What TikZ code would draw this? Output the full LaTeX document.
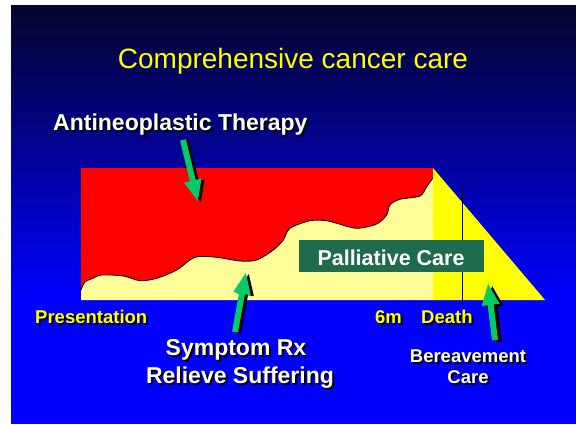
\documentclass[tikz,border=0pt]{standalone}
\usepackage{fontspec}
\setmainfont{Liberation Sans}
\usetikzlibrary{arrows.meta}
\definecolor{bgtop}{RGB}{5,5,45}
\definecolor{bgbot}{RGB}{0,0,250}
\definecolor{slideblue}{RGB}{0,0,255}
\definecolor{lightyel}{RGB}{255,255,153}
\definecolor{brightyel}{RGB}{255,255,0}
\definecolor{arrgreen}{RGB}{0,204,102}
\definecolor{boxgreen}{RGB}{30,107,78}
\newcommand\shtx[1]{\makebox[0pt][l]{\kern2pt\raisebox{-2pt}{\color{black}#1}}#1}
\begin{document}
\begin{tikzpicture}[x=1pt,y=-1pt,
  lbl/.style={inner sep=0pt, font=\bfseries\fontsize{18.5}{22}\selectfont},
  biglbl/.style={inner sep=0pt, font=\bfseries\fontsize{23}{27}\selectfont, text=white},
  bigarrow/.style={line width=6pt, -{Triangle[length=22pt,width=16pt]}, draw=arrgreen},
  arrshadow/.style={line width=6pt, -{Triangle[length=22pt,width=16pt]}, draw=black},
]
\useasboundingbox (0,0) rectangle (576,424);
\fill[white] (0,0) rectangle (576,424);
% slide background
\shade[top color=bgtop, bottom color=bgbot] (11,5) rectangle (576,292);
\fill[slideblue] (11,291) rectangle (576,424);

% title
\node[inner sep=0pt, anchor=base, text=brightyel, font=\fontsize{28}{32}\selectfont] (title) at (293,68) {Comprehensive cancer care};

% chart
\fill[red] (81,168) rectangle (433,300);
\fill[lightyel] (81,300) -- plot[smooth] coordinates {(81,290) (85,282) (93,278.3) (101.7,275) (123.3,276) (140,280.7) (156.7,278.3) (176.7,270) (195,257.3) (216.7,257.3) (240,261) (256.7,260) (273.3,250) (283.3,240) (290,228.3) (310,220.7) (326.7,220.7) (336.7,223.3) (356.7,228.3) (376.7,224) (386.7,215) (390,205) (400,199.3) (420,196) (426.7,186.7) (433,178)} -- (433,168) -- (433,300) -- cycle;
\draw[black, line width=0.8pt] plot[smooth] coordinates {(81,290) (85,282) (93,278.3) (101.7,275) (123.3,276) (140,280.7) (156.7,278.3) (176.7,270) (195,257.3) (216.7,257.3) (240,261) (256.7,260) (273.3,250) (283.3,240) (290,228.3) (310,220.7) (326.7,220.7) (336.7,223.3) (356.7,228.3) (376.7,224) (386.7,215) (390,205) (400,199.3) (420,196) (426.7,186.7) (433,178)};
\fill[brightyel] (433,168) -- (545,300) -- (433,300) -- cycle;
\coordinate (tickTop) at (462,183);
\coordinate (tickBot) at (462,307);
\draw[black, line width=1pt] (tickTop) -- (tickBot);

% palliative box
\node[fill=boxgreen, minimum width=185pt, minimum height=32pt, inner sep=0pt, anchor=north west] (pall) at (299,240) {};
\node[inner sep=0pt, text=white, font=\bfseries\fontsize{21.5}{25}\selectfont, anchor=base] (palltext) at (391,265) {Palliative Care};

% labels
\node[biglbl, anchor=base west] (anti) at (53,130) {\shtx{Antineoplastic Therapy}};
\node[lbl, text=brightyel, anchor=base west] (pres) at (35,323) {\shtx{Presentation}};
\node[lbl, text=brightyel, anchor=base west] (sixm) at (375,323) {\shtx{6m}};
\node[lbl, text=brightyel, anchor=base west] (death) at (421,323) {\shtx{Death}};
\node[biglbl, anchor=base] (symp) at (236,355) {\shtx{Symptom Rx}};
\node[biglbl, anchor=base] (reli) at (240,383) {\shtx{Relieve Suffering}};
\node[lbl, text=white, anchor=base] (bere) at (468,362) {\shtx{Bereavement}};
\node[lbl, text=white, anchor=base] (berecare) at (468,383) {\shtx{Care}};

% arrows
\coordinate (a1s) at (183,140);
\coordinate (a1e) at (198,202);
\coordinate (a2s) at (235,332);
\coordinate (a2e) at (246,272);
\coordinate (a3s) at (495,340);
\coordinate (a3e) at (488,283);
\draw[arrshadow, transform canvas={xshift=3pt, yshift=-1pt}] (a1s) -- (a1e);
\draw[bigarrow] (a1s) -- (a1e);
\draw[arrshadow, transform canvas={xshift=3pt, yshift=-1pt}] (a2s) -- (a2e);
\draw[bigarrow] (a2s) -- (a2e);
\draw[arrshadow, transform canvas={xshift=4pt, yshift=-2pt}] (a3s) -- (a3e);
\draw[bigarrow] (a3s) -- (a3e);
\end{tikzpicture}
\end{document}
